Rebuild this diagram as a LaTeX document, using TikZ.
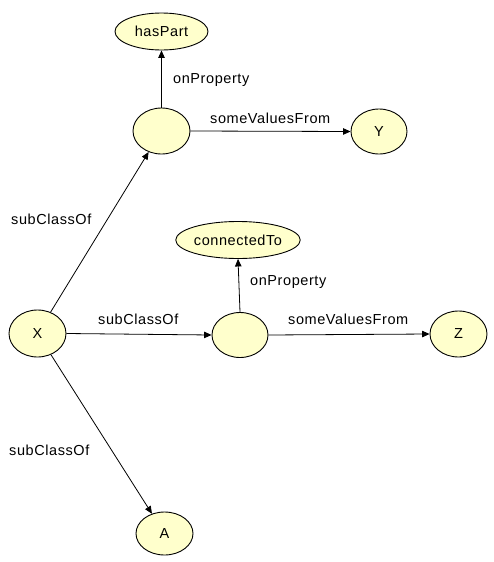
\documentclass[tikz,border=0pt]{standalone}
\usepackage{fontspec}
\setmainfont{Liberation Sans}[LetterSpace=4]
\usetikzlibrary{shapes.geometric,arrows.meta}
\definecolor{nodefill}{RGB}{255,255,204}
\tikzset{
  cls/.style={ellipse, draw=black, line width=0.9pt, fill=nodefill, inner sep=0pt,
    font=\fontsize{14.5}{16}\selectfont},
  lbl/.style={inner sep=0pt, anchor=west, font=\fontsize{14.5}{16}\selectfont},
  rel/.style={draw=black, line width=0.8pt, -{Triangle[length=7.5pt,width=6.5pt]}}
}
\begin{document}
\begin{tikzpicture}[x=1pt,y=-1pt]
\useasboundingbox[fill=white] (0,0) rectangle (493,562);
% nodes
\node[cls, minimum width=93pt, minimum height=37pt] (hasPart) at (161.5,31.5) {hasPart};
\node[cls, minimum width=57pt, minimum height=46pt] (r1) at (161.5,131) {};
\node[cls, minimum width=56pt, minimum height=45pt] (Y) at (379,131.5) {Y};
\node[cls, minimum width=120pt, minimum height=37pt] (conn) at (238,240) {connectedTo};
\node[cls, minimum width=57pt, minimum height=47pt] (X) at (37.5,333.5) {X};
\node[cls, minimum width=56pt, minimum height=45pt] (r2) at (240,335) {};
\node[cls, minimum width=57pt, minimum height=46pt] (Z) at (458.5,334) {Z};
\node[cls, minimum width=57pt, minimum height=43pt] (A) at (164.5,533.5) {A};
% connectors
\draw[rel] (r1.north) -- (hasPart.south);
\draw[rel] (r1.east) -- (Y.west);
\draw[rel] (X) -- (r1);
\draw[rel] (X.east) -- (r2.west);
\draw[rel] (r2.north) -- (conn.south);
\draw[rel] (r2.east) -- (Z.west);
\draw[rel] (X) -- (A);
% labels
\node[lbl] (l1) at (173,80) {onProperty};
\node[lbl] (l2) at (210,118) {someValuesFrom};
\node[lbl] (l3) at (11,219) {subClassOf};
\node[lbl] (l4) at (250,282) {onProperty};
\node[lbl] (l5) at (98,319) {subClassOf};
\node[lbl] (l6) at (288,319) {someValuesFrom};
\node[lbl] (l7) at (9,450) {subClassOf};
\end{tikzpicture}
\end{document}
